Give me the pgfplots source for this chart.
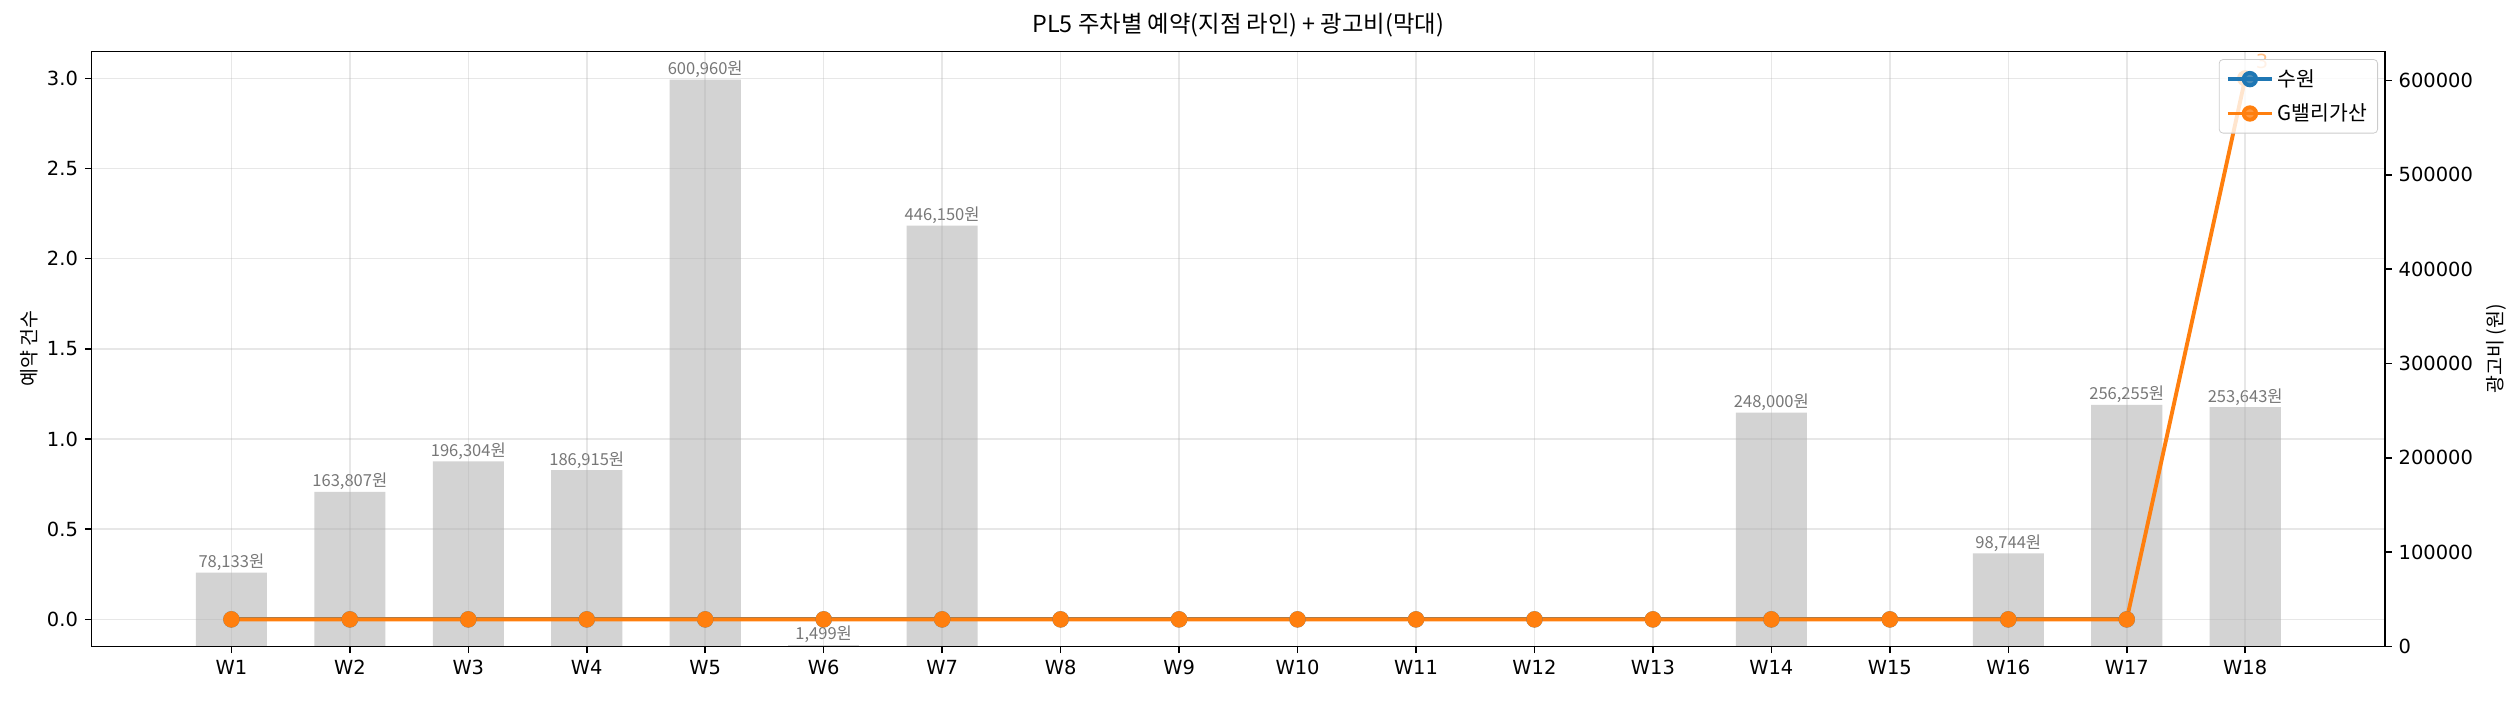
\documentclass[border=0pt]{standalone}
\usepackage{pgfplots}
\pgfplotsset{compat=1.18}
\usepackage{pgfplotstable}
\usepackage{fontspec}
\setmainfont{DejaVu Sans}
\newfontfamily\kr{Noto Sans CJK KR}
\definecolor{mplblue}{HTML}{1F77B4}
\definecolor{mplorange}{HTML}{FF7F0E}
\definecolor{bargray}{HTML}{D3D3D3}
\definecolor{labgray}{HTML}{777777}
\definecolor{gridc}{HTML}{B0B0B0}
\definecolor{legframe}{HTML}{CCCCCC}

% weekly ad cost (won), only non-zero weeks
\pgfplotstableread{
x cost label
0 78133 78,133
1 163807 163,807
2 196304 196,304
3 186915 186,915
4 600960 600,960
5 1499 1,499
6 446150 446,150
13 248000 248,000
15 98744 98,744
16 256255 256,255
17 253643 253,643
}\costs

% bookings per branch
\pgfplotstableread{
x suwon
0 0
1 0
2 0
3 0
4 0
5 0
6 0
7 0
8 0
9 0
10 0
11 0
12 0
13 0
14 0
15 0
16 0
}\suwon

\pgfplotstableread{
x gvalley
0 0
1 0
2 0
3 0
4 0
5 0
6 0
7 0
8 0
9 0
10 0
11 0
12 0
13 0
14 0
15 0
16 0
17 3
}\gvalley

\begin{document}
\begin{tikzpicture}
\pgfplotsset{
  common/.style={
    scale only axis, width=1179.3pt, height=306pt,
    xmin=-1.18, xmax=18.18,
    tick align=outside, major tick length=3.5pt,
    axis line style={line width=0.8pt},
    every tick/.style={line width=0.8pt, black},
    tick label style={font=\fontsize{10}{12}\selectfont},
    /pgf/number format/assume math mode=true,
  }
}
% bars on the right axis
\begin{axis}[common,
  ymin=0, ymax=631008,
  axis y line*=right, axis x line=none,
  ytick={0,100000,200000,300000,400000,500000,600000},
  scaled y ticks=false,
  yticklabel style={/pgf/number format/.cd, fixed, 1000 sep={}},
  ylabel={\kr 광고비 (원)},
  ylabel style={font=\fontsize{10}{12}\selectfont},
]
\addplot[ybar, bar width=0.6, bar shift=0pt, fill=bargray, draw=none,
  point meta=explicit symbolic,
  nodes near coords={\pgfplotspointmeta{\kr 원}},
  nodes near coords style={font=\kr\fontsize{8.5}{10}\selectfont, text=labgray, anchor=south, inner sep=0.8pt}]
  table[x=x, y=cost, meta=label]{\costs};
\end{axis}
% lines on the left axis
\begin{axis}[common,
  ymin=-0.15, ymax=3.15,
  xtick pos=bottom, ytick pos=left,
  xtick={0,...,17},
  xticklabels={W1,W2,W3,W4,W5,W6,W7,W8,W9,W10,W11,W12,W13,W14,W15,W16,W17,W18},
  ytick={0,0.5,1,1.5,2,2.5,3},
  yticklabel style={/pgf/number format/.cd, fixed, fixed zerofill, precision=1},
  grid=major,
  grid style={line width=0.8pt, color=gridc, opacity=0.3},
  ylabel={\kr 예약 건수},
  ylabel style={font=\fontsize{10}{12}\selectfont, xshift=0pt, yshift=-2pt},
  title={\kr PL5 주차별 예약(지점 라인) + 광고비(막대)},
  title style={font=\fontsize{12}{14}\selectfont, yshift=-2pt},
  legend style={at={(1,1)}, anchor=north east, xshift=-3.6pt, yshift=-4pt,
    draw=legframe, rounded corners=2pt, fill=white, fill opacity=0.8, text opacity=1,
    font=\kr\fontsize{10.5}{12}\selectfont, row sep=3.5pt, inner xsep=3.5pt, inner ysep=3pt},
  legend image code/.code={\draw[mark repeat=2, mark phase=2] plot coordinates {(0pt,0pt) (11.3pt,0pt) (22.6pt,0pt)};},
  legend cell align=left,
]
\addplot[color=mplblue, line width=2pt, mark=*, mark size=3.2pt, mark options={fill=mplblue, draw=mplblue}]
  table[x=x, y=suwon]{\suwon};
\addlegendentry{수원}
\addplot[color=mplorange, line width=2pt, mark=*, mark size=3.2pt, mark options={fill=mplorange, draw=mplorange}]
  table[x=x, y=gvalley]{\gvalley};
\addlegendentry{G밸리가산}
\node[text=mplorange, text opacity=0.5, font=\fontsize{10}{12}\selectfont] at (axis cs:17,3) [xshift=8.7pt, yshift=8.7pt] {3};
\end{axis}
% page frame in the reference's proportions
\path (-47.1pt,-27.8pt) rectangle (1248.7pt,332.4pt);
\end{tikzpicture}
\end{document}
